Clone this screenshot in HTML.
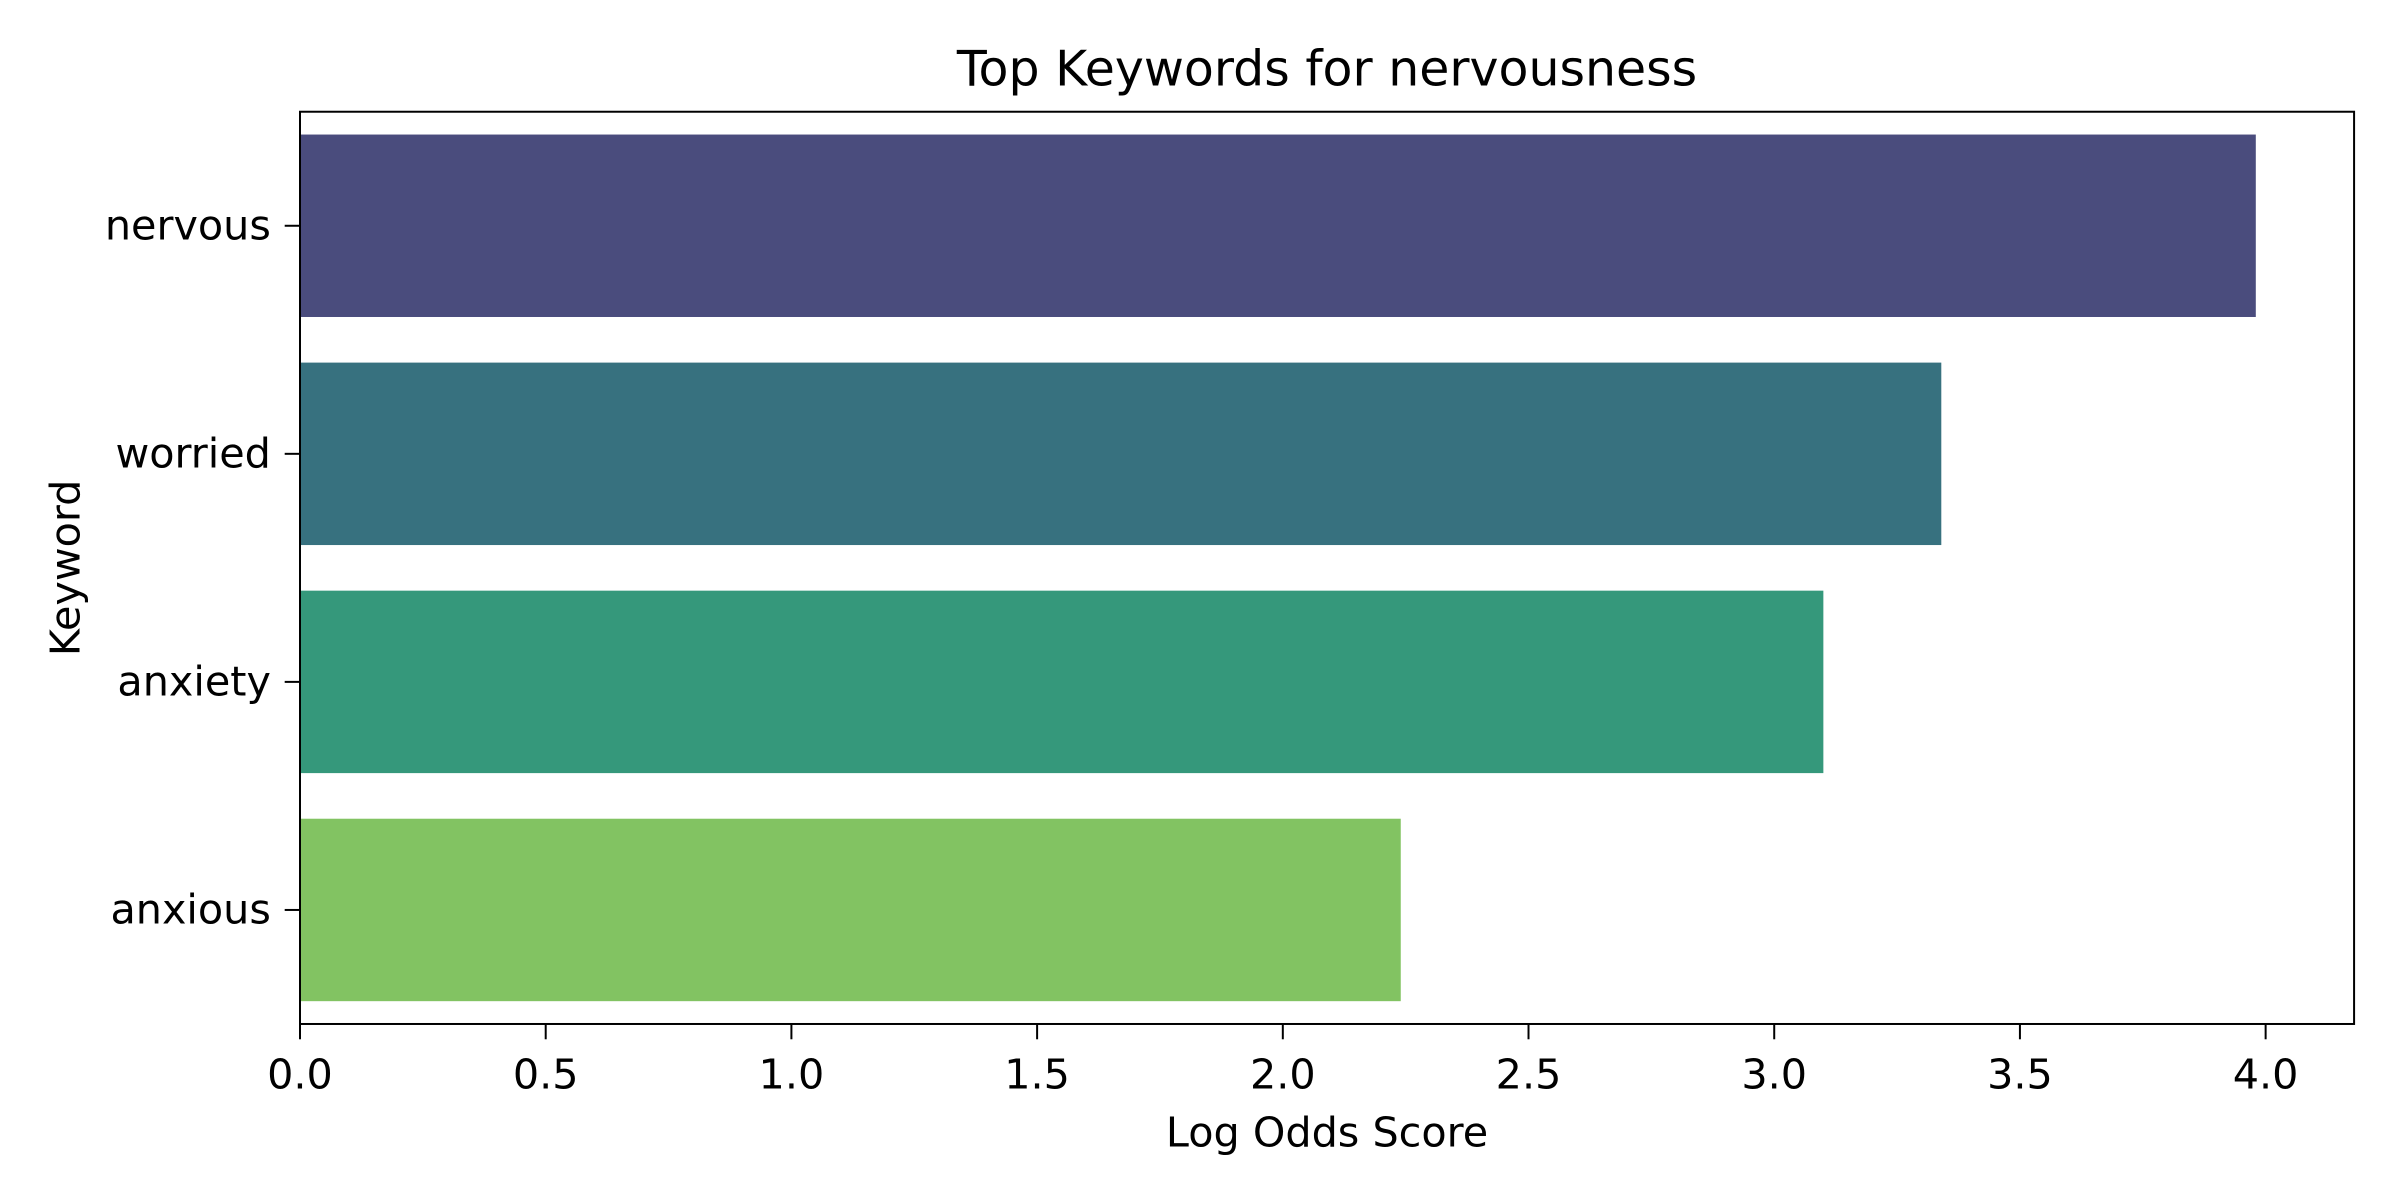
<!DOCTYPE html>
<html><head><meta charset="utf-8"><style>html,body{margin:0;padding:0;background:#fff}svg{display:block}text{font-family:"DejaVu Sans","Liberation Sans",sans-serif;fill:#000}</style></head>
<body>
<svg id="chart" width="2400" height="1200" viewBox="0 0 1568 784" xmlns="http://www.w3.org/2000/svg">
<rect width="1568" height="784" fill="#fff"/>
<g id="bars"></g>
<g id="axes"></g>
<text x="867" y="56" font-size="32" text-anchor="middle">Top Keywords for nervousness</text>
<text x="867" y="749" font-size="27" text-anchor="middle">Log Odds Score</text>
<text transform="translate(52,371) rotate(-90)" font-size="27" text-anchor="middle">Keyword</text>
</svg>
<script>
const categories = ["nervous", "worried", "anxiety", "anxious"];
const values = [3.98, 3.34, 3.10, 2.24];
const colors = ["#4a4c7d", "#37717f", "#35987b", "#82c362"];
const xTicks = [0.0, 0.5, 1.0, 1.5, 2.0, 2.5, 3.0, 3.5, 4.0];
const xTickLabels = ["0.0","0.5","1.0","1.5","2.0","2.5","3.0","3.5","4.0"];

const L=196, R=1538, T=73, B=669, XMAX=4.18;
const xs = v => L + v/XMAX*(R-L);
const band = (B-T)/categories.length;
const yc = i => T + band*(i+0.5);
const NS="http://www.w3.org/2000/svg";
const bars=document.getElementById('bars'), axes=document.getElementById('axes');
function mk(tag, attrs, parent){const e=document.createElementNS(NS,tag);for(const k in attrs)e.setAttribute(k,attrs[k]);parent.appendChild(e);return e;}
categories.forEach((c,i)=>{
  const h=band*0.8;
  const r=mk('rect',{x:xs(0),y:yc(i)-h/2,width:xs(values[i])-xs(0),height:h,fill:colors[i]},bars);
  
  
  const t=mk('line',{x1:L-10,x2:L,y1:yc(i),y2:yc(i),stroke:'#000','stroke-width':1.3},axes);
  
  
  const lb=mk('text',{x:L-19,y:yc(i)+9,'font-size':27,'text-anchor':'end'},axes);
  lb.textContent=c;
  
  
});
xTicks.forEach((v,i)=>{
  const t=mk('line',{x1:xs(v),x2:xs(v),y1:B,y2:B+10,stroke:'#000','stroke-width':1.3},axes);
  
  
  const lb=mk('text',{x:xs(v),y:B+42,'font-size':27,'text-anchor':'middle'},axes);
  lb.textContent=xTickLabels[i];
  
  
});
const fr=mk('rect',{x:L,y:T,width:R-L,height:B-T,fill:'none',stroke:'#000','stroke-width':1.3},axes);


</script>
</body></html>
